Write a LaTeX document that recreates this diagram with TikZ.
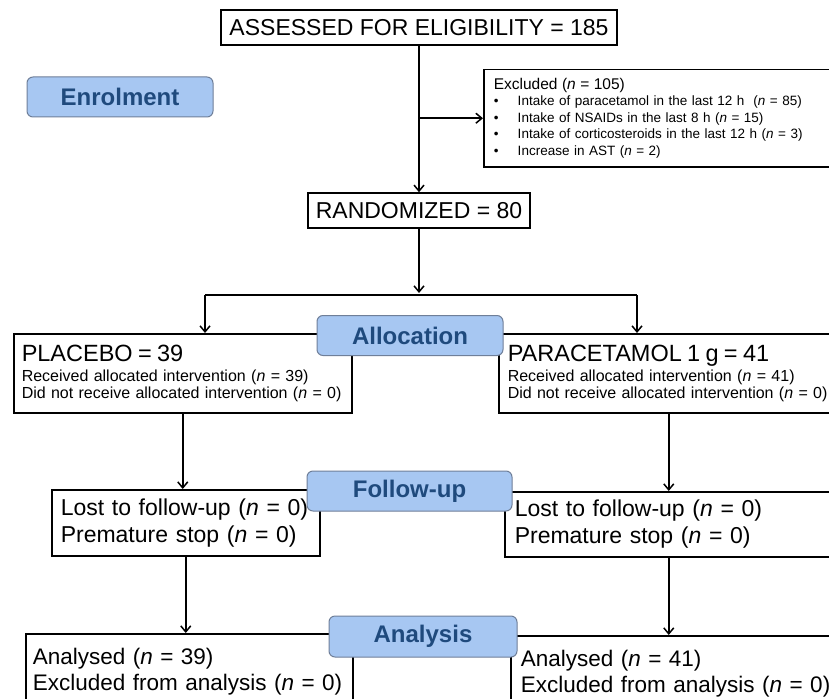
\documentclass[tikz,border=0pt]{standalone}
\usepackage{fontspec}
\setmainfont{Liberation Sans}
\usetikzlibrary{positioning,arrows.meta}
\definecolor{phasefill}{HTML}{A7C7F2}
\definecolor{phaseline}{HTML}{6F7F99}
\definecolor{phasetext}{HTML}{1F4A7D}

\begin{document}
\begin{tikzpicture}[
    x=1pt, y=-1pt,
    block/.style={draw, line width=1.5pt, inner sep=0pt, align=center, font=\fontsize{23}{25}\selectfont},
    textbox/.style={draw, line width=1.5pt, anchor=north west, align=left, inner ysep=0pt},
    phase/.style={draw=phaseline, fill=phasefill, line width=1pt, rounded corners=6pt, minimum width=186pt, minimum height=40pt, font=\fontsize{24}{26}\selectfont\bfseries, text=phasetext},
    arrow/.style={-{Straight Barb[length=6pt,width=10pt]}, line width=1.5pt}
]
\clip (0,0) rectangle (829,698);
\fill[white] (0,0) rectangle (829,698);

% enrolment
\node[block, minimum width=396pt, minimum height=35pt] (assessed) at (419,27.5) {ASSESSED FOR ELIGIBILITY = 185};
\node[block, minimum width=222pt, minimum height=35pt] (randomized) at (419,210.5) {RANDOMIZED = 80};
\node[textbox, text width=340pt, inner xsep=10pt, minimum height=97pt, font=\fontsize{13.5}{16.5}\selectfont] (excluded) at (483,69) {%
  {\fontsize{15.5}{16.5}\selectfont Excluded (\textit{n} = 105)}\\
  \makebox[24pt][l]{\textbullet}Intake of paracetamol in the last 12 h~ (\textit{n} = 85)\\
  \makebox[24pt][l]{\textbullet}Intake of NSAIDs in the last 8 h (\textit{n} = 15)\\
  \makebox[24pt][l]{\textbullet}Intake of corticosteroids in the last 12 h (\textit{n} = 3)\\
  \makebox[24pt][l]{\textbullet}Increase in AST (\textit{n} = 2)};

% allocation
\node[textbox, text width=322pt, inner xsep=8pt, minimum height=79pt, font=\fontsize{16}{17}\selectfont] (placebo) at (13,333) {%
  {\fontsize{23.5}{23}\selectfont PLACEBO = 39}\\[3pt]
  Received allocated intervention (\textit{n} = 39)\\
  Did not receive allocated intervention (\textit{n} = 0)};
\node[textbox, text width=322pt, inner xsep=9pt, minimum height=79pt, font=\fontsize{16}{17}\selectfont] (paracetamol) at (498,333) {%
  {\fontsize{23.5}{23}\selectfont PARACETAMOL 1 g = 41}\\[3pt]
  Received allocated intervention (\textit{n} = 41)\\
  Did not receive allocated intervention (\textit{n} = 0)};

% follow-up
\node[textbox, text width=250pt, inner xsep=9pt, minimum height=66pt, font=\fontsize{23}{27}\selectfont] (followL) at (51,489) {%
  Lost to follow-up (\textit{n} = 0)\\
  Premature stop (\textit{n} = 0)};
\node[textbox, text width=340pt, inner xsep=10pt, minimum height=65pt, font=\fontsize{23}{27}\selectfont] (followR) at (504,491) {%
  Lost to follow-up (\textit{n} = 0)\\
  Premature stop (\textit{n} = 0)};

% analysis
\node[textbox, text width=313pt, inner xsep=7pt, minimum height=76pt, font=\fontsize{22.5}{26}\selectfont] (analysisL) at (25,633) {%
  Analysed (\textit{n} = 39)\\
  Excluded from analysis (\textit{n} = 0)};
\node[textbox, text width=340pt, inner xsep=10pt, minimum height=76pt, font=\fontsize{22.5}{26}\selectfont] (analysisR) at (510,635) {%
  Analysed (\textit{n} = 41)\\
  Excluded from analysis (\textit{n} = 0)};

% phase labels
\node[phase] (enrolment) at (120,97) {Enrolment};
\node[phase] (allocation) at (410,335.5) {Allocation};
\node[phase, minimum width=205pt] (followup) at (409.5,491) {Follow-up};
\node[phase, minimum width=188pt, minimum height=41pt] (analysis) at (423,636.5) {Analysis};

% connectors
\coordinate (split) at (419,293);
\coordinate (lsplit) at (205,295);
\coordinate (rsplit) at (637,295);
\draw[arrow] (assessed) -- (randomized);
\draw[arrow] (randomized.north |- excluded.west) -- (excluded.west);
\draw[arrow] (randomized) -- (split);
\draw[line width=1.5pt] (lsplit) -- (rsplit);
\draw[arrow] (lsplit) -- (lsplit |- placebo.north);
\draw[arrow] (rsplit) -- (rsplit |- paracetamol.north);
\draw[arrow] (placebo.south) -- (placebo.south |- followL.north);
\draw[arrow] (paracetamol.south) -- (paracetamol.south |- followR.north);
\draw[arrow] (followL.south) -- (followL.south |- analysisL.north);
\draw[arrow] (paracetamol.south |- followR.south) -- (paracetamol.south |- analysisR.north);
\end{tikzpicture}
\end{document}
